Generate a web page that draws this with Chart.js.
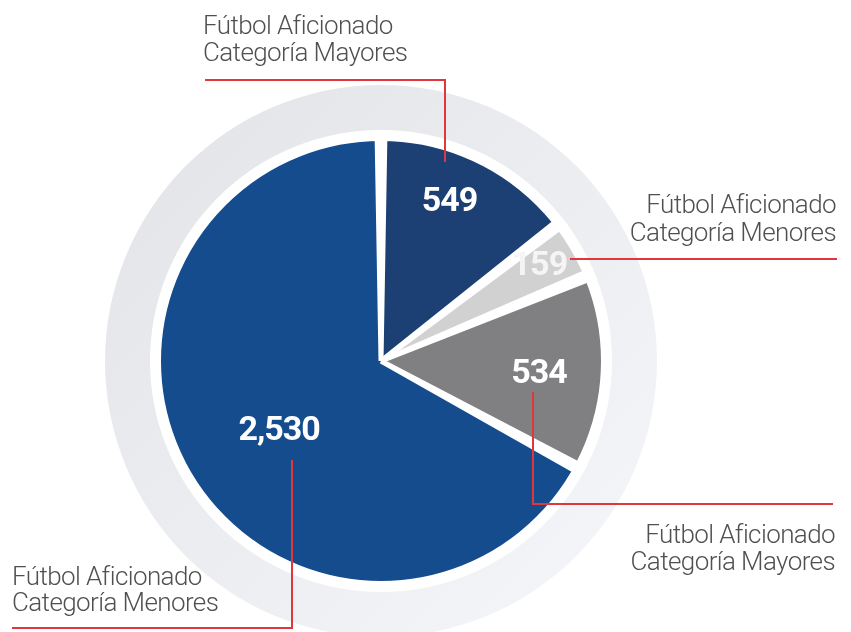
<!DOCTYPE html>
<html>
<head>
<meta charset="utf-8">
<script src="https://cdn.jsdelivr.net/npm/chart.js@4.4.1/dist/chart.umd.min.js"></script>
<style>
    html, body { margin: 0; padding: 0; background: #ffffff; }
    canvas { display: block; }
</style>
</head>
<body>
<canvas id="chart" width="851" height="632"></canvas>
<script>
(function () {
    // data, clockwise from 12 o'clock
    const categories = [
        ['Fútbol Aficionado', 'Categoría Mayores'],
        ['Fútbol Aficionado', 'Categoría Menores'],
        ['Fútbol Aficionado', 'Categoría Mayores'],
        ['Fútbol Aficionado', 'Categoría Menores']
    ];
    const values = [549, 159, 534, 2530];

    const sliceColors = ['#1c3f74', '#d1d1d2', '#808083', '#144c8e'];
    const valueColors = ['#ffffff', '#f5f5f5', '#ffffff', '#ffffff'];

    // value label placement: fraction of radius along the slice middle, plus angle nudge (deg)
    const valueRadius = [0.79, 0.84, 0.72, 0.56];
    const valueNudge = [-3, -1, 1.3, -3.5];

    // callouts, px offsets from the pie centre
    const callouts = [
        { line: [[64, -199], [64, -281], [-176, -281]], x: -178, base: [-327, -300], align: 'left' },
        { line: [[189, -102], [456, -102]], x: 455, base: [-148, -120], align: 'right' },
        { line: [[152, 31], [152, 143], [452, 143]], x: 454, base: [182, 209], align: 'right' },
        { line: [[-89, 99], [-89, 267], [-369, 267]], x: -369, base: [224, 250], align: 'left' }
    ];

    const ringRadius = 276;
    const total = values.reduce((a, b) => a + b, 0);

    function ringFill(c) {
        const chart = c.chart;
        const a = chart.chartArea;
        if (!a) return '#eaebee';
        const cx = (a.left + a.right) / 2;
        const cy = (a.top + a.bottom) / 2;
        const g = chart.ctx.createLinearGradient(cx - 200, cy - 200, cx + 200, cy + 200);
        g.addColorStop(0, '#e4e6e9');
        g.addColorStop(1, '#f3f4f7');
        return g;
    }

    const decorPlugin = {
        id: 'decor',
        afterDatasetsDraw(chart) {
            const ctx = chart.ctx;
            const arcs = chart.getDatasetMeta(1).data;
            const cx = arcs[0].x;
            const cy = arcs[0].y;
            const R = arcs[0].outerRadius;

            ctx.save();
            // white gap between pie and ring
            ctx.strokeStyle = '#ffffff';
            ctx.lineWidth = 11;
            ctx.beginPath();
            ctx.arc(cx, cy, R + 0.5, 0, Math.PI * 2);
            ctx.stroke();

            // white separators between slices, wider at the rim
            ctx.fillStyle = '#ffffff';
            arcs.forEach(arc => {
                const a = arc.startAngle;
                const ux = Math.cos(a), uy = Math.sin(a);
                const px = -uy, py = ux;
                const w0 = 2.5, w1 = 6.5, r1 = R + 6;
                ctx.beginPath();
                ctx.moveTo(cx + px * w0, cy + py * w0);
                ctx.lineTo(cx + ux * r1 + px * w1, cy + uy * r1 + py * w1);
                ctx.lineTo(cx + ux * r1 - px * w1, cy + uy * r1 - py * w1);
                ctx.lineTo(cx - px * w0, cy - py * w0);
                ctx.closePath();
                ctx.fill();
            });

            // leader lines
            ctx.strokeStyle = '#e0373d';
            ctx.lineWidth = 2;
            callouts.forEach(co => {
                ctx.beginPath();
                co.line.forEach((p, i) => {
                    if (i === 0) ctx.moveTo(cx + p[0], cy + p[1]);
                    else ctx.lineTo(cx + p[0], cy + p[1]);
                });
                ctx.stroke();
            });

            // category texts
            ctx.fillStyle = '#505050';
            ctx.font = '300 26px Roboto';
            ctx.letterSpacing = '-0.6px';
            ctx.textBaseline = 'alphabetic';
            callouts.forEach((co, i) => {
                ctx.textAlign = co.align;
                categories[i].forEach((txt, j) => {
                    ctx.fillText(txt, cx + co.x, cy + co.base[j]);
                });
            });

            // value labels
            ctx.font = 'bold 34px Roboto';
            ctx.letterSpacing = '-1px';
            ctx.textAlign = 'center';
            ctx.textBaseline = 'middle';
            arcs.forEach((arc, i) => {
                const mid = (arc.startAngle + arc.endAngle) / 2 + valueNudge[i] * Math.PI / 180;
                const r = valueRadius[i] * (R - 5);
                ctx.fillStyle = valueColors[i];
                ctx.fillText(values[i].toLocaleString('en-US'), cx + Math.cos(mid) * r, cy + Math.sin(mid) * r + 1);
            });
            ctx.restore();
        }
    };

    const config = {
        type: 'pie',
        data: {
            labels: categories.map(c => c.join(' ')),
            datasets: [
                {
                    label: 'ring',
                    data: [total],
                    backgroundColor: ringFill,
                    borderWidth: 0,
                    weight: 51,
                    radius: ringRadius,
                    order: 1
                },
                {
                    label: 'Fútbol Aficionado',
                    data: values,
                    backgroundColor: sliceColors,
                    borderWidth: 0,
                    weight: 225,
                    radius: ringRadius,
                    order: 0
                }
            ]
        },
        options: {
            responsive: false,
            animation: false,
            radius: ringRadius,
            layout: { padding: { left: 0, right: 89, top: 90, bottom: 0 } },
            plugins: {
                legend: { display: false },
                tooltip: { enabled: false }
            }
        },
        plugins: [decorPlugin]
    };

    new Chart('chart', config);
})();
</script>
</body>
</html>
